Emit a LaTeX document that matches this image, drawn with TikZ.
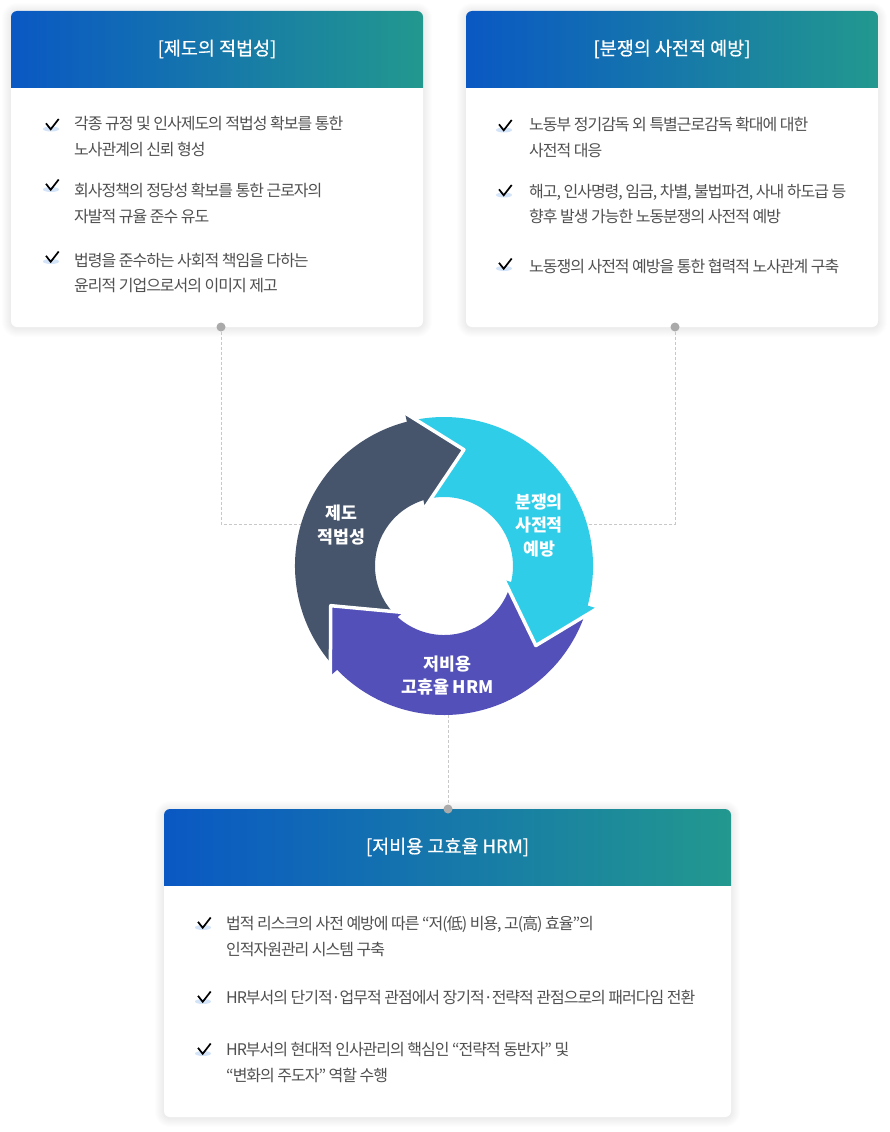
\documentclass[tikz,border=0pt]{standalone}
\usepackage{fontspec}
\setmainfont{Noto Sans CJK KR}
\newfontfamily\bodyfont[LetterSpace=-6.4]{Noto Sans CJK KR}
\newfontfamily\headfont[FakeBold=0.7]{Noto Sans CJK KR}
\definecolor{gA}{RGB}{10,88,196}
\definecolor{gB}{RGB}{34,152,143}
\definecolor{txt}{RGB}{80,80,80}
\definecolor{darkc}{RGB}{70,84,108}
\definecolor{cyanc}{RGB}{48,205,232}
\definecolor{purc}{RGB}{83,80,185}
\definecolor{dotc}{RGB}{170,170,170}
\definecolor{dashc}{RGB}{200,200,200}
\definecolor{chkbg}{RGB}{212,228,248}
\tikzset{
  cardbox/.style={inner sep=0pt, outer sep=0pt},
  headtxt/.style={text=white, font=\headfont\fontsize{18.5}{21}\selectfont, inner sep=0pt},
  itemline/.style={text=txt, font=\bodyfont\fontsize{16}{19}\selectfont, anchor=base west, inner sep=0pt},
  lbl/.style={text=white, font=\fontsize{17.3}{23.5}\selectfont\bfseries, align=center, inner sep=0pt},
  conn/.style={draw=dashc, line width=0.8pt, dash pattern=on 3pt off 2pt},
  dotn/.style={circle, fill=dotc, minimum size=9pt, inner sep=0pt},
  chk/.pic={
    \fill[chkbg] (0,-3.5) ellipse [x radius=8, y radius=2.5];
    \draw[black, line width=1.7pt, line join=miter] (-5,2.2) -- (-0.3,-3.8) -- (7.7,6.5);
  },
  headedge/.style={draw=white, line width=3.5pt, line join=round}
}
\begin{document}
\begin{tikzpicture}[x=1pt,y=1pt]
\useasboundingbox (0,0) rectangle (890,-1132);
\fill[white] (0,0) rectangle (890,-1132);

% ---------- cards ----------
\node[cardbox, minimum width=412pt, minimum height=316pt] (lcard) at (217,-169) {};
\node[cardbox, minimum width=412pt, minimum height=316pt] (rcard) at (672,-169) {};
\node[cardbox, minimum width=567pt, minimum height=308pt] (bcard) at (447.5,-963) {};

\foreach \c in {lcard,rcard,bcard}{
  \foreach \i in {1,...,9}{
    \fill[black, opacity=0.009, rounded corners=6pt+\i pt]
      ([shift={(-\i,\i-1)}]\c.north west) rectangle ([shift={(\i,-\i-1)}]\c.south east);
  }
  \fill[white, rounded corners=6pt] (\c.north west) rectangle (\c.south east);
  \begin{scope}
    \clip[rounded corners=6pt] (\c.north west) rectangle (\c.south east);
    \shade[left color=gA, right color=gB] (\c.north west) rectangle ([yshift=-76pt]\c.north east);
  \end{scope}
}

\node[headtxt] (lhead) at (217,-49) {[제도의 적법성]};
\node[headtxt] (rhead) at (672,-49) {[분쟁의 사전적 예방]};
\node[headtxt] (bhead) at (447.5,-847) {[저비용 고효율 HRM]};

% ---------- left items ----------
\pic at (51,-125.5) {chk};
\pic at (51,-186) {chk};
\pic at (51,-258) {chk};
\node[itemline] (l1a) at (74,-129.5) {각종 규정 및 인사제도의 적법성 확보를 통한};
\node[itemline] (l1b) at (74,-155) {노사관계의 신뢰 형성};
\node[itemline] (l2a) at (74,-196) {회사정책의 정당성 확보를 통한 근로자의};
\node[itemline] (l2b) at (74,-222) {자발적 규율 준수 유도};
\node[itemline] (l3a) at (74,-266) {법령을 준수하는 사회적 책임을 다하는};
\node[itemline] (l3b) at (74,-291) {윤리적 기업으로서의 이미지 제고};

% ---------- right items ----------
\pic at (504,-126.5) {chk};
\pic at (504,-191.5) {chk};
\pic at (504,-265) {chk};
\node[itemline] (r1a) at (529,-130.9) {노동부 정기감독 외 특별근로감독 확대에 대한};
\node[itemline] (r1b) at (529,-156.5) {사전적 대응};
\node[itemline] (r2a) at (529,-197.5) {해고, 인사명령, 임금, 차별, 불법파견, 사내 하도급 등};
\node[itemline] (r2b) at (529,-222.5) {향후 발생 가능한 노동분쟁의 사전적 예방};
\node[itemline] (r3a) at (529,-272.5) {노동쟁의 사전적 예방을 통한 협력적 노사관계 구축};

% ---------- bottom items ----------
\pic at (203,-924) {chk};
\pic at (203,-998) {chk};
\pic at (203,-1050) {chk};
\node[itemline] (b1a) at (226,-929) {법적 리스크의 사전 예방에 따른 “저(低) 비용, 고(高) 효율”의};
\node[itemline] (b1b) at (226,-955) {인적자원관리 시스템 구축};
\node[itemline] (b2a) at (226,-1003) {HR부서의 단기적·업무적 관점에서 장기적·전략적 관점으로의 패러다임 전환};
\node[itemline] (b3a) at (226,-1055) {HR부서의 현대적 인사관리의 핵심인 “전략적 동반자” 및};
\node[itemline] (b3b) at (226,-1081) {“변화의 주도자” 역할 수행};

% ---------- connectors ----------
\node[circle, minimum size=298pt, inner sep=0pt] (ring) at (444,-566) {};
\coordinate (lend) at (330,-524);
\coordinate (rend) at (560,-524);
\coordinate (bstart) at (448,-700);
\node[dotn] (ldot) at (221,-327) {};
\node[dotn] (rdot) at (675,-327) {};
\node[dotn] (bdot) at (448,-809) {};
\draw[conn] (ldot) |- (lend);
\draw[conn] (rdot) |- (rend);
\draw[conn] (bstart) -- (bdot);

% ---------- cycle ring ----------
\begin{scope}[shift={(ring.center)}]
  \fill[darkc] (104.3:149) arc[start angle=104.3, end angle=224, radius=149]
      -- (224:69) arc[start angle=224, end angle=104.3, radius=69] -- cycle;
  \fill[cyanc] (-15.5:149) arc[start angle=-15.5, end angle=104.3, radius=149]
      -- (104.3:69) arc[start angle=104.3, end angle=-15.5, radius=69] -- cycle;
  \fill[purc] (224:149) arc[start angle=224, end angle=344.5, radius=149]
      -- (344.5:69) arc[start angle=344.5, end angle=224, radius=69] -- cycle;
  \fill[darkc] (104.3:158) -- (80.3:118) -- (108:61.5) -- cycle;
  \draw[headedge] (104.3:158) -- (80.3:118) -- (108:61.5);
  \fill[cyanc] (-15.5:159) -- (-40.9:121.5) -- (-13:61.6) -- cycle;
  \draw[headedge] (-15.5:159) -- (-40.9:121.5) -- (-13:61.6);
  \fill[purc] (224:158) -- (199.3:120) -- (228.5:62) -- cycle;
  \draw[headedge] (224:158) -- (199.3:120) -- (228.5:62);
\end{scope}

\node[lbl] (lblA) at (341.7,-525) {제도\\적법성};
\node[lbl] (lblB) at (539,-525.5) {분쟁의\\사전적\\예방};
\node[lbl] (lblC) at (447.5,-675.5) {저비용\\고휴율 HRM};
\end{tikzpicture}
\end{document}
